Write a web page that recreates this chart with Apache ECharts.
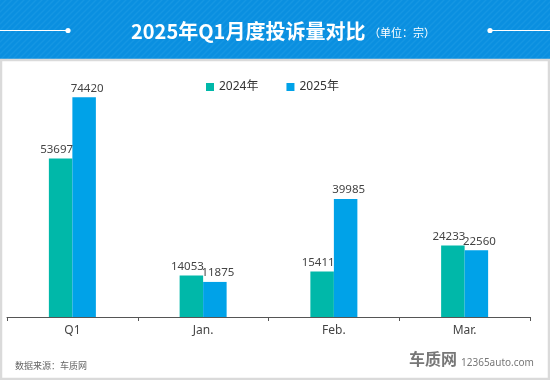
<!DOCTYPE html>
<html><head><meta charset="utf-8">
<script src="https://cdn.jsdelivr.net/npm/echarts@6/dist/echarts.min.js"></script>
<style>html,body{margin:0;padding:0;background:#fff}#c{width:550px;height:380px}</style>
</head><body><div id="c"></div>
<script>
var categories = ['Q1', 'Jan.', 'Feb.', 'Mar.'];
var seriesNames = ['2024年', '2025年'];
var values2024 = [53697, 14053, 15411, 24233];
var values2025 = [74420, 11875, 39985, 22560];
var titleText = '2025年Q1月度投诉量对比';
var unitText = '（单位：宗）';
var sourceText = '数据来源：车质网';

var pc = document.createElement('canvas');
pc.width = 6; pc.height = 6;
var g = pc.getContext('2d');
g.fillStyle = '#0a8fe0'; g.fillRect(0, 0, 6, 6);
g.strokeStyle = '#1596e3'; g.lineWidth = 1.5;
g.beginPath(); g.moveTo(0, 6); g.lineTo(6, 0); g.moveTo(-3, 3); g.lineTo(3, -3); g.moveTo(3, 9); g.lineTo(9, 3); g.stroke();

var chart = echarts.init(document.getElementById('c'), null, {renderer: 'canvas'});
var font = '"Noto Sans", "Noto Sans CJK SC", sans-serif';
chart.setOption({
  animation: false,
  textStyle: {fontFamily: font},
  color: ['#00b8a9', '#00a2e8'],
  graphic: [
    {type: 'rect', shape: {x: 0, y: 0, width: 550, height: 60}, style: {fill: {image: pc, repeat: 'repeat'}}, z: 0},
    {type: 'rect', shape: {x: 1, y: 60, width: 548, height: 319}, style: {fill: '#fff', stroke: '#dadada', lineWidth: 2.5}, z: 0},
    {type: 'line', shape: {x1: 0, y1: 30.5, x2: 68, y2: 30.5}, style: {stroke: '#fff', lineWidth: 1.2}, z: 1},
    {type: 'circle', shape: {cx: 68, cy: 30.5, r: 2.6}, style: {fill: '#fff'}, z: 1},
    {type: 'line', shape: {x1: 490, y1: 30.5, x2: 550, y2: 30.5}, style: {stroke: '#fff', lineWidth: 1.2}, z: 1},
    {type: 'circle', shape: {cx: 490, cy: 30.5, r: 2.6}, style: {fill: '#fff'}, z: 1},
    {type: 'text', x: 131, y: 31, style: {text: titleText, fill: '#fff', font: 'bold 20px "Noto Sans CJK SC", sans-serif', textVerticalAlign: 'middle'}, z: 2},
    {type: 'text', x: 369, y: 33, style: {text: unitText, fill: '#fff', font: '11px "Noto Sans CJK SC", sans-serif', textVerticalAlign: 'middle'}, z: 2},
    {type: 'text', x: 15, y: 365.5, style: {text: sourceText, fill: '#666', font: '9px "Noto Sans CJK SC", sans-serif', textVerticalAlign: 'middle'}, z: 2},
    {type: 'text', x: 409, y: 359, style: {text: '车质网', fill: '#777', font: 'bold 16px "Noto Sans CJK SC", sans-serif', textVerticalAlign: 'middle'}, z: 2},
    {type: 'text', x: 461, y: 363, style: {text: '12365auto.com', fill: '#777', font: '10px "Noto Sans", sans-serif', textVerticalAlign: 'middle'}, z: 2}
  ],
  legend: {
    left: 206, top: 81, padding: 0, itemWidth: 8, itemHeight: 8, itemGap: 28,
    icon: 'rect',
    textStyle: {fontSize: 12, color: '#333', padding: [0, 0, 0, 0]},
    data: seriesNames
  },
  grid: {left: 7, right: 20, top: 80.7, bottom: 63, containLabel: false},
  xAxis: {
    type: 'category', data: categories,
    axisLine: {lineStyle: {color: '#555', width: 1}},
    axisTick: {show: true, length: 4, lineStyle: {color: '#555'}},
    axisLabel: {color: '#444', fontSize: 12, margin: 8}
  },
  yAxis: {type: 'value', min: 0, max: 80000, show: false, splitLine: {show: false}},
  series: [
    {name: seriesNames[0], type: 'bar', data: values2024, barWidth: 23.5, barGap: '0%',
     label: {show: true, position: 'top', distance: 3, offset: [-4, 0], color: '#444', fontSize: 11.5}},
    {name: seriesNames[1], type: 'bar', data: values2025, barWidth: 23.5, barGap: '0%',
     label: {show: true, position: 'top', distance: 3, offset: [3, 0], color: '#444', fontSize: 11.5}}
  ]
});
</script></body></html>
